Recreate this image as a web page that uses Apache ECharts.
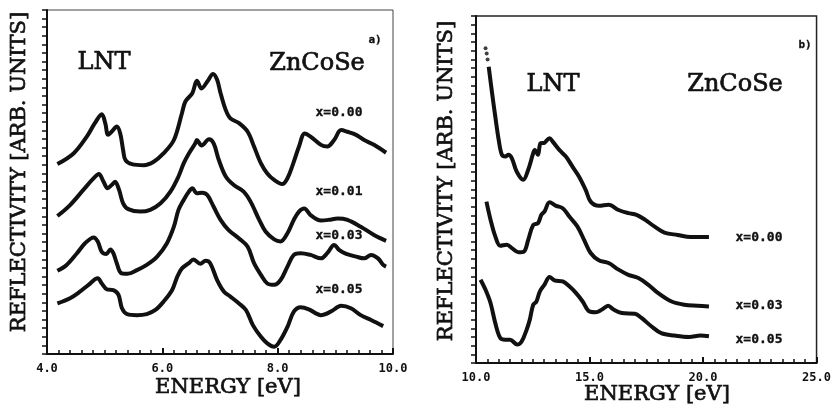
<!DOCTYPE html>
<html>
<head>
<meta charset="UTF-8">
<title>Reflectivity ZnCoSe</title>
<script src="https://cdn.jsdelivr.net/npm/echarts@6/dist/echarts.min.js"></script>
<style>
    body { margin: 0; background: #ffffff; }
</style>
</head>
<body>
<div id="chart1" style="width: 834px;height: 409px;"></div>
<script type="text/javascript">
// panel a) energy [eV], reflectivity [arb. units]
var a_x000 = [[4.18,55.2],[4.46,58.3],[4.69,63.2],[4.83,67.1],[4.95,69.7],[5.01,67.1],[5.06,63.7],[5.12,64.6],[5.21,66.1],[5.27,64.1],[5.32,59.3],[5.36,56.4],[5.47,55.2],[5.68,54.9],[5.85,55.9],[6.02,58.3],[6.20,62.2],[6.34,70.0],[6.40,73.4],[6.52,75.8],[6.60,79.4],[6.68,77.2],[6.78,79.2],[6.88,81.4],[6.95,79.7],[7.01,75.8],[7.10,70.9],[7.18,68.5],[7.33,67.1],[7.48,64.6],[7.59,60.3],[7.71,55.4],[7.82,52.5],[7.94,50.6],[8.08,49.4],[8.17,51.1],[8.26,54.9],[8.37,60.3],[8.47,64.1],[8.57,63.2],[8.75,60.8],[8.86,60.3],[8.98,62.2],[9.10,65.1],[9.21,64.6],[9.36,63.7],[9.50,62.2],[9.67,60.8],[9.88,58.5]];
var a_x001 = [[4.18,40.1],[4.40,43.3],[4.63,47.7],[4.81,51.1],[4.90,52.3],[4.98,50.1],[5.05,48.2],[5.12,49.1],[5.18,50.1],[5.25,47.7],[5.32,43.8],[5.41,42.1],[5.62,41.4],[5.79,41.9],[5.97,43.8],[6.14,47.2],[6.28,51.6],[6.37,55.4],[6.46,58.3],[6.57,61.2],[6.60,62.2],[6.68,60.6],[6.81,62.4],[6.89,61.2],[6.98,56.4],[7.10,51.6],[7.24,49.1],[7.41,47.2],[7.53,44.3],[7.68,39.0],[7.79,35.6],[7.94,33.3],[8.05,32.7],[8.17,35.1],[8.28,39.0],[8.37,41.4],[8.46,42.3],[8.57,40.4],[8.75,38.8],[8.89,39.0],[9.04,39.4],[9.21,39.0],[9.44,37.0],[9.67,34.6],[9.88,32.9]];
var a_x003 = [[4.18,24.2],[4.34,25.9],[4.52,29.3],[4.66,32.2],[4.81,33.9],[4.88,32.7],[4.95,29.7],[5.03,29.1],[5.10,30.4],[5.15,29.3],[5.21,26.4],[5.28,23.6],[5.39,23.3],[5.56,24.4],[5.73,25.9],[5.91,28.3],[6.08,32.2],[6.20,37.0],[6.28,41.9],[6.37,44.8],[6.46,47.2],[6.52,48.2],[6.60,46.7],[6.69,46.9],[6.78,46.2],[6.89,42.8],[7.01,39.0],[7.15,36.0],[7.33,33.6],[7.48,31.2],[7.59,26.4],[7.71,23.0],[7.82,20.5],[7.94,20.1],[8.05,21.5],[8.17,25.4],[8.28,28.8],[8.40,29.3],[8.57,28.8],[8.75,27.8],[8.86,29.3],[8.98,31.7],[9.07,30.2],[9.19,29.1],[9.36,28.3],[9.50,27.8],[9.62,28.8],[9.74,27.8],[9.83,25.9],[9.88,25.4]];
var a_x005 = [[4.18,14.7],[4.40,16.2],[4.57,18.1],[4.72,20.1],[4.88,22.0],[4.95,20.5],[5.04,18.8],[5.15,18.6],[5.24,17.2],[5.30,13.3],[5.39,11.6],[5.56,11.3],[5.73,11.6],[5.88,12.8],[6.02,15.2],[6.17,18.6],[6.26,22.5],[6.34,24.9],[6.46,26.4],[6.54,27.5],[6.66,26.2],[6.75,27.1],[6.83,26.4],[6.95,21.5],[7.07,18.1],[7.18,16.7],[7.33,14.7],[7.45,12.8],[7.57,8.4],[7.71,5.0],[7.82,3.1],[7.94,2.1],[8.05,4.1],[8.17,7.9],[8.28,12.3],[8.40,13.6],[8.54,13.0],[8.75,11.3],[8.92,12.3],[9.10,14.0],[9.27,13.3],[9.44,11.3],[9.62,9.9],[9.83,8.1]];

// panel b)
var b_x000 = [[10.56,85.4],[10.71,77.7],[10.85,71.0],[11.00,64.3],[11.14,60.0],[11.29,59.5],[11.43,60.0],[11.58,59.0],[11.79,55.2],[12.08,52.8],[12.30,55.7],[12.52,60.5],[12.59,61.4],[12.73,60.0],[12.84,63.3],[13.02,63.5],[13.24,64.8],[13.38,63.8],[13.67,61.4],[13.96,59.5],[14.25,56.6],[14.54,53.7],[14.83,49.9],[15.05,46.5],[15.41,45.3],[15.84,45.6],[16.28,44.1],[16.71,43.2],[17.07,42.7],[17.44,41.3],[17.87,39.3],[18.30,37.6],[18.88,36.9],[19.46,36.3],[20.26,36.3]];
var b_x000_dots = [[10.42,90.7],[10.47,89.2],[10.51,87.5]];
var b_x003 = [[10.46,46.5],[10.64,41.3],[10.85,36.5],[11.07,33.8],[11.36,34.1],[11.58,33.1],[11.87,31.9],[12.11,32.1],[12.30,35.5],[12.52,39.8],[12.73,40.3],[12.88,42.7],[13.02,43.7],[13.24,46.3],[13.53,45.3],[13.82,44.6],[14.11,42.2],[14.47,39.3],[14.76,35.5],[15.05,31.7],[15.41,29.6],[15.84,28.8],[16.28,26.9],[16.71,25.4],[17.15,24.5],[17.58,22.6],[18.01,20.2],[18.59,17.8],[19.17,16.8],[19.75,16.5],[20.26,16.3]];
var b_x005 = [[10.20,24.0],[10.42,21.1],[10.64,17.3],[10.85,11.5],[11.07,7.2],[11.29,6.7],[11.50,6.7],[11.82,5.3],[12.01,6.2],[12.23,9.6],[12.37,12.5],[12.52,16.8],[12.66,17.7],[12.81,20.6],[13.02,22.6],[13.24,24.8],[13.46,23.8],[13.82,23.5],[14.11,22.1],[14.40,20.2],[14.69,17.8],[14.98,14.9],[15.27,14.6],[15.55,15.4],[15.82,16.5],[16.06,15.4],[16.42,14.4],[17.00,14.2],[17.29,13.0],[17.72,10.6],[18.16,8.6],[18.74,7.9],[19.39,7.5],[19.89,7.9],[20.26,7.7]];

var chart1 = echarts.init(document.getElementById('chart1'));

var serif = 'DejaVu Serif';
var mono = 'DejaVu Sans Mono';
var ink = '#111111';

function xAxisFor(idx, min, max, step) {
    return {
        gridIndex: idx,
        type: 'value',
        min: min,
        max: max,
        interval: step,
        axisLine: { show: true, onZero: false, lineStyle: { color: ink, width: 2 } },
        axisTick: { show: true, inside: true, length: 6, lineStyle: { color: ink, width: 2 } },
        minorTick: { show: true, splitNumber: 10, length: 4, lineStyle: { color: ink, width: 1.5 } },
        splitLine: { show: false },
        axisLabel: {
            margin: 9,
            color: ink,
            fontFamily: mono,
            fontWeight: 'bold',
            fontSize: 12,
            formatter: function (v) { return v.toFixed(1); }
        }
    };
}
function yAxisFor(idx) {
    return {
        gridIndex: idx,
        type: 'value',
        min: 0,
        max: 100,
        interval: 2.5,
        axisLine: { show: true, lineStyle: { color: ink, width: 2 } },
        axisTick: { show: true, inside: false, length: 5, lineStyle: { color: ink, width: 1.5 } },
        splitLine: { show: false },
        axisLabel: { show: false }
    };
}
function curve(idx, data) {
    return {
        type: 'line',
        xAxisIndex: idx,
        yAxisIndex: idx,
        data: data,
        smooth: 0.35,
        showSymbol: false,
        lineStyle: { color: ink, width: 4 },
        silent: true
    };
}
function txt(x, y, s, size, family, weight, rot) {
    return {
        type: 'text',
        x: x,
        y: y,
        rotation: rot || 0,
        style: {
            text: s,
            fill: ink,
            stroke: ink,
            lineWidth: weight === 'bold' ? 0.3 : 0.7,
            font: (weight || 'normal') + ' ' + size + 'px "' + family + '"',
            align: 'center',
            verticalAlign: 'middle'
        }
    };
}

var option = {
    backgroundColor: '#ffffff',
    animation: false,
    grid: [
        { left: 47, top: 10, width: 346, height: 344, show: true, borderColor: '#444', borderWidth: 1 },
        { left: 476, top: 16, width: 346, height: 347, show: true, borderColor: '#222', borderWidth: 1.5 }
    ],
    xAxis: [xAxisFor(0, 4, 10, 2), xAxisFor(1, 10, 25, 5)],
    yAxis: [yAxisFor(0), yAxisFor(1)],
    series: [
        curve(0, a_x000), curve(0, a_x001), curve(0, a_x003), curve(0, a_x005),
        curve(1, b_x000), curve(1, b_x003), curve(1, b_x005),
        {
            type: 'scatter',
            xAxisIndex: 1,
            yAxisIndex: 1,
            data: b_x000_dots,
            symbolSize: 4,
            itemStyle: { color: ink },
            silent: true
        }
    ],
    graphic: [
        txt(20, 172, 'REFLECTIVITY [ARB. UNITS]', 21, serif, 'normal', Math.PI / 2),
        txt(228, 388, 'ENERGY [eV]', 21, serif),
        txt(104, 63, 'LNT', 24, serif),
        txt(317, 64, 'ZnCoSe', 24, serif),
        txt(375, 40, 'a)', 11, mono, 'bold'),
        txt(339, 113, 'x=0.00', 13, mono, 'bold'),
        txt(339, 192, 'x=0.01', 13, mono, 'bold'),
        txt(339, 236, 'x=0.03', 13, mono, 'bold'),
        txt(339, 290, 'x=0.05', 13, mono, 'bold'),

        txt(447, 181, 'REFLECTIVITY [ARB. UNITS]', 21, serif, 'normal', Math.PI / 2),
        txt(657, 395, 'ENERGY [eV]', 21, serif),
        txt(553, 85, 'LNT', 24, serif),
        txt(735, 85, 'ZnCoSe', 24, serif),
        txt(805, 45, 'b)', 11, mono, 'bold'),
        txt(759, 238, 'x=0.00', 13, mono, 'bold'),
        txt(759, 306, 'x=0.03', 13, mono, 'bold'),
        txt(759, 340, 'x=0.05', 13, mono, 'bold')
    ]
};
chart1.setOption(option);
</script>
</body>
</html>
